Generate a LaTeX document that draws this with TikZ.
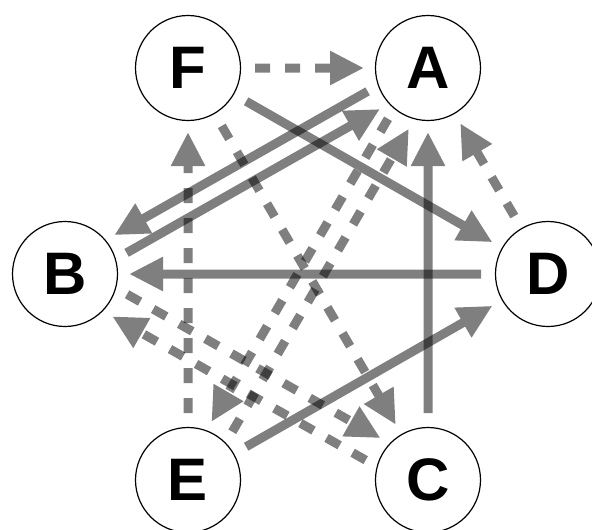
\documentclass[tikz,border=0pt]{standalone}
\usepackage{fontspec}
\setmainfont{Liberation Sans}
\usetikzlibrary{arrows.meta,calc}
\begin{document}
\begin{tikzpicture}[x=1pt,y=-1pt,
  vert/.style={circle,draw=black,line width=1.2pt,fill=white,minimum size=105pt,inner sep=0pt,
    font=\fontsize{60}{60}\selectfont\bfseries},
  conn/.style={draw=black,line width=9pt,-{Triangle[length=34pt,width=32pt]},shorten <=67pt,shorten >=64pt},
  connoff/.style={conn,shorten <=64pt,shorten >=62pt},
  dsh/.style={dash pattern=on 15pt off 15pt},
  grp/.style={transparency group,opacity=0.5}]
\useasboundingbox (0,0) rectangle (592,530);
\node[vert] (F) at (188,68) {F};
\node[vert] (A) at (428,68) {A};
\node[vert] (B) at (65,274) {B};
\node[vert] (D) at (548,274) {D};
\node[vert] (E) at (188,480) {E};
\node[vert] (C) at (428,480) {C};
% solid, centred
\begin{scope}[grp]\draw[conn] (F.center) -- (D.center);\end{scope}
\begin{scope}[grp]\draw[conn] (D.center) -- (B.center);\end{scope}
\begin{scope}[grp]\draw[conn] (E.center) -- (D.center);\end{scope}
\begin{scope}[grp]\draw[conn] (C.center) -- (A.center);\end{scope}
% dashed, centred
\begin{scope}[grp]\draw[conn,dsh] (F.center) -- (A.center);\end{scope}
\begin{scope}[grp]\draw[conn,dsh] (E.center) -- (F.center);\end{scope}
\begin{scope}[grp]\draw[conn,dsh] (D.center) -- (A.center);\end{scope}
\begin{scope}[grp]\draw[conn,dsh] (F.center) -- (C.center);\end{scope}
% solid, offset pair A-B
\begin{scope}[grp]\draw[connoff] ($(A)!9.5pt!-90:(B)$) -- ($(B)!9.5pt!90:(A)$);\end{scope}
\begin{scope}[grp]\draw[connoff] ($(B)!12pt!-90:(A)$) -- ($(A)!12pt!90:(B)$);\end{scope}
% dashed, offset pair A-E
\begin{scope}[grp]\draw[connoff,dsh] ($(A)!9pt!-90:(E)$) -- ($(E)!9pt!90:(A)$);\end{scope}
\begin{scope}[grp]\draw[connoff,dsh] ($(E)!14pt!-90:(A)$) -- ($(A)!14pt!90:(E)$);\end{scope}
% dashed, offset pair B-C
\begin{scope}[grp]\draw[connoff,dsh] ($(B)!13pt!90:(C)$) -- ($(C)!13pt!-90:(B)$);\end{scope}
\begin{scope}[grp]\draw[connoff,dsh] ($(C)!13.5pt!90:(B)$) -- ($(B)!13.5pt!-90:(C)$);\end{scope}
\end{tikzpicture}
\end{document}
